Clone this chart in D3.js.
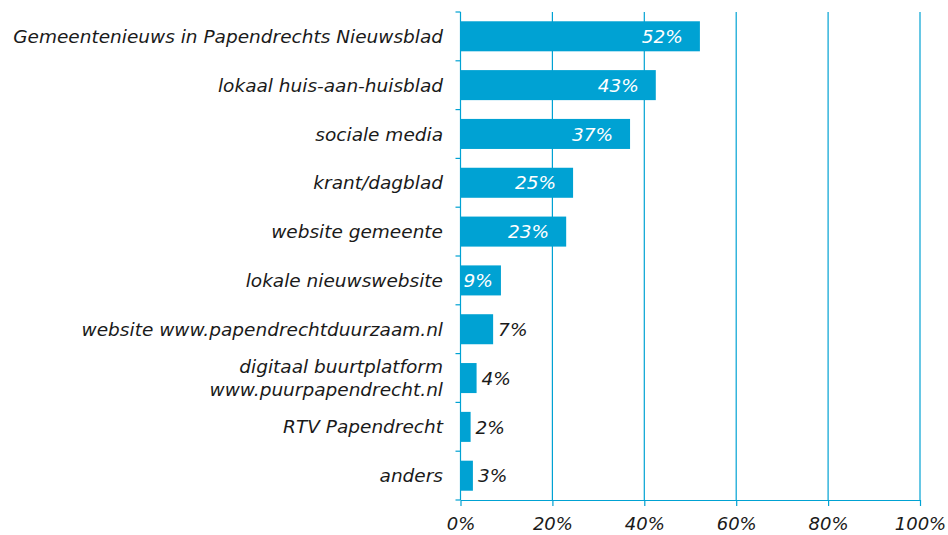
<!DOCTYPE html>
<meta charset="utf-8">
<head>
<title>Informatiebronnen</title>
<script src="https://cdn.jsdelivr.net/npm/d3@7"></script>
<style>
body { margin:0; background:#fff; }
text { font-family:"DejaVu Sans", Verdana, sans-serif; font-style:italic; }
</style>
</head>
<body>
<svg id=mySVG width=948 height=535></svg>
<script>
var categories=[
  "Gemeentenieuws in Papendrechts Nieuwsblad",
  "lokaal huis-aan-huisblad",
  "sociale media",
  "krant/dagblad",
  "website gemeente",
  "lokale nieuwswebsite",
  "website www.papendrechtduurzaam.nl",
  "digitaal buurtplatform|www.puurpapendrecht.nl",
  "RTV Papendrecht",
  "anders"
]
var values=[52.1,42.5,36.9,24.5,23,8.8,7.1,3.5,2.2,2.7]
var tickValues=[0,20,40,60,80,100]

var blue="#00a2d3"
var plotLeft=460.5, plotRight=920, plotTop=12, plotBottom=500

var svg=d3.select("#mySVG")
var x=d3.scaleLinear().domain([0,100]).range([plotLeft,plotRight])
var y=d3.scaleBand().domain(categories).range([plotTop,plotBottom]).paddingInner(0.385).paddingOuter(0.19)
var band=d3.scaleBand().domain(categories).range([plotTop,plotBottom])

//---gridlines
svg.append("g").selectAll("line").data(tickValues.slice(1)).join("line")
  .attr("x1",d=>x(d)).attr("x2",d=>x(d))
  .attr("y1",plotTop).attr("y2",plotBottom)
  .attr("stroke",blue).attr("stroke-width",1.2)

//---bars
svg.append("g").selectAll("rect").data(values).join("rect")
  .attr("x",x(0))
  .attr("y",(d,i)=>y(categories[i]))
  .attr("width",d=>x(d)-x(0))
  .attr("height",y.bandwidth())
  .attr("fill",blue)

//---value labels (inside, white, unless bar too short)
var vl=svg.append("g").selectAll("text").data(values).join("text")
  .attr("y",(d,i)=>y(categories[i])+y.bandwidth()/2)
  .attr("dy","0.36em")
  .attr("fill",d=>d>8 ? "#fff" : "#1a1a1a")
  .attr("font-size",18.5)
  .text(d=>Math.round(d)+"%")
vl.each(function(d){
  var t=d3.select(this)
  if(d>8){
    var w=this.getComputedTextLength()
    t.attr("x",Math.max(x(d)-17-w,x(0)+3))
  } else {
    t.attr("x",x(d)+5)
  }
})

//---category labels
var cat=svg.append("g").selectAll("text").data(categories).join("text")
  .attr("x",443)
  .attr("y",d=>band(d)+band.bandwidth()/2)
  .attr("text-anchor","end")
  .attr("fill","#1a1a1a")
  .attr("font-size",18.5)
cat.each(function(d){
  var lines=d.split("|")
  var t=d3.select(this)
  lines.forEach(function(l,k){
    t.append("tspan").attr("x",443)
      .attr("dy",k==0 ? (0.36-(lines.length-1)*0.62)+"em" : "1.24em")
      .text(l)
  })
})

//---y axis
var yAxis=svg.append("g").attr("transform","translate("+plotLeft+",0)")
yAxis.append("line").attr("y1",plotTop).attr("y2",plotBottom).attr("stroke",blue).attr("stroke-width",1.2)
yAxis.selectAll(".tk").data(categories.concat([null])).join("line")
  .attr("x1",-5).attr("x2",0)
  .attr("y1",(d,i)=>i<categories.length ? band(d) : plotBottom)
  .attr("y2",(d,i)=>i<categories.length ? band(d) : plotBottom)
  .attr("stroke",blue).attr("stroke-width",1.2)

//---x axis
var xAxis=svg.append("g").attr("transform","translate(0,"+plotBottom+")")
  .call(d3.axisBottom(x).tickValues(tickValues).tickSize(6).tickSizeOuter(0).tickFormat(d=>d+"%"))
xAxis.select(".domain").attr("stroke",blue).attr("stroke-width",1.2)
xAxis.selectAll(".tick line").attr("stroke",blue).attr("stroke-width",1.2)
xAxis.selectAll(".tick text")
  .attr("font-family","DejaVu Sans, Verdana, sans-serif")
  .attr("font-style","italic")
  .attr("font-size",18).attr("fill","#1a1a1a").attr("dy","1.15em")
</script>
</body>
